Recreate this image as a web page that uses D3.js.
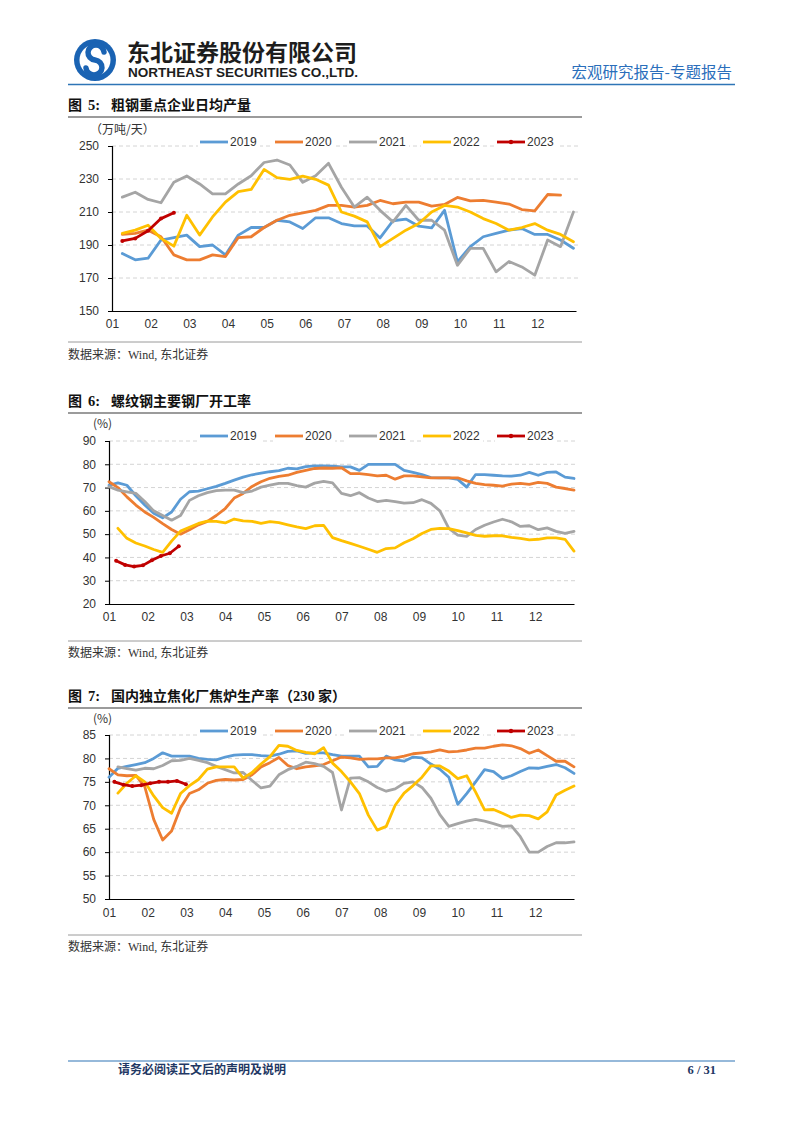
<!DOCTYPE html>
<html><head><meta charset="utf-8">
<script src="https://cdn.jsdelivr.net/npm/d3@7"></script>
<style>
body{margin:0;background:#fff;}
svg{display:block;}
</style></head>
<body><svg id="page" width="802" height="1133"></svg>
<script>
// ---------------- DATA ----------------
const monthLabels = ["01","02","03","04","05","06","07","08","09","10","11","12"];
const seriesNames = ["2019","2020","2021","2022","2023"];
const seriesColors = ["#5B9BD5","#ED7D31","#A5A5A5","#FFC000","#C00000"];

// Figure 5: crude steel daily output of key enterprises (10-day periods), 万吨/天
const steelTicks = [150,170,190,210,230,250];
const steel2019 = [184.8,181,182,193,194.5,196,189,190,184,196,200.6,200.6,205,204,200,206.5,206.5,203,201.6,201.6,194.3,204.7,205.7,201.4,200.4,211,179.8,189,195,197,199,200,196.4,196.4,193,188];
const steel2020 = [196.4,197,199,195,184,181,181,184,183,194.5,195,200.6,205,208,209.5,211,214,214,213,214,217,215,216,216,213.6,214.6,218.8,216.8,217,216,214.8,211.5,210.7,220.6,220.2];
const steel2021 = [219,222,217.6,215.6,228,231.8,227,221,221,227,232,240,241.5,238.5,228,232,239.5,225,213,219,211,204,214,205,205,199,177.7,188,188,173.7,180,176.7,171.7,193,189,210];
const steel2022 = [197,199,202,194,189.3,208,196,207,216,222.3,223.7,235.8,230.8,229.8,231.8,229.8,226.3,210,207.5,204,189,194,199,203,210,214,213,210,206,203,199,200.6,203,199,196.4,192];
const steel2023 = [192.5,194,198.6,206,209.5];
const steelStart = [0,0,0,0,0]; // first 10-day period index

// Figure 6: rebar mill operating rate (weekly), %
const rebarTicks = [20,30,40,50,60,70,80,90];
const rebar2019 = [71,72,71,66.5,62.5,59,57,59.5,65,68.2,68.5,69.5,70.5,71.8,73.2,74.5,75.5,76.2,76.8,77.3,78.3,78,79,79.3,79.3,79.2,78.9,78.9,77.4,80,80,80,80,77.4,76.5,75.6,74.3,74.2,74.2,73.5,70.2,75.6,75.6,75.3,75,74.9,75.3,76.5,75.3,76.5,76.7,74.5,73.9];
const rebar2020 = [72.5,70,66,62.5,59.5,57.2,54.5,52,50,51.9,54,55.5,58,61,65.5,67.5,70.5,72.5,74,74.8,75.3,76.5,77.4,78.2,78.4,78.3,78.5,76,76,75.6,75,75.3,73.6,75,75,74.6,74.2,74.2,74.2,74.2,72.9,71.8,71.3,71,70.6,71.5,71.8,71.4,72.2,71.8,70.2,69.6,68.9];
const rebar2021 = [70.4,68.9,68.2,67.5,64,60,58,56,58,64.5,66.5,67.8,68.7,68.9,68.9,67.8,68.5,70.2,71,71.8,71.8,70.8,70.2,71.9,72.7,72,67.5,66.5,67.8,65.5,64,64.5,64,63.3,63.5,64.8,63.2,60,52.5,49.6,49,52,53.8,55.2,56.4,55.3,53.3,53.6,51.9,52.7,51.2,50.3,51.2];
const rebar2022 = [52.5,48.2,46.2,44.9,43.4,42.2,47,51.3,53,54.6,55.6,55.5,54.8,56.5,55.7,55.5,54.6,55.4,54.9,54,53.1,52.4,53.6,53.8,48.5,47.2,46,44.8,43.5,42.2,43.8,44.1,46.3,48,50.3,52,52.5,52.4,51.5,50.5,49.5,49.1,49.3,49.3,48.6,48.2,47.5,47.8,48.4,48.4,47.8,42.7];
const rebar2023 = [38.6,36.8,36.1,36.6,38.8,40.6,41.8,44.8];
const rebarStart = [0,0,0,1,0.8]; // first week index

// Figure 7: independent coking plants (230) coke oven utilisation (weekly), %
const cokeTicks = [50,55,60,65,70,75,80,85];
const coke2019 = [76,77.9,78.3,78.7,79.1,80,81.2,80.5,80.5,80.5,80,79.8,79.7,80.3,80.7,80.8,80.8,80.6,80.5,80.9,81.5,81.6,81.1,81.2,81.2,80.8,80.5,80.5,80.5,78.2,78.3,80.5,79.7,79.4,80.3,80.1,78.8,77.7,76,70.2,72.5,75,77.6,77.2,75.7,76.3,77.2,78,77.9,78.3,78.7,78,76.8];
const coke2020 = [77.8,76.5,76.3,76.4,74,67,62.6,64.5,69.5,72.5,73.3,74.7,75.3,75.5,75.4,75.5,76.5,78.2,79.1,80.2,78.5,77.8,78.2,78.4,78.7,79.5,80.3,80.1,79.8,79.9,79.9,80.1,80.1,80.5,81,81.2,81.4,81.8,81.4,81.5,81.8,82.2,82.2,82.6,82.9,82.7,82.1,81.1,81.8,80.6,79.4,79.4,78.2];
const coke2021 = [78.2,77.8,77.5,77.9,77.8,78.5,79.5,79.6,80,79.6,79.1,78.3,77.6,76.9,77,75.3,73.7,74.1,76.5,77.6,78.3,79.2,78.9,78.3,77,69,75.8,75.9,75,73.8,73,73.5,74.7,75,73.8,71.5,68,65.5,66.1,66.6,67,66.6,66.1,65.5,65.6,63.3,60,60,61.2,62,62,62.2];
const coke2022 = [72.6,74.7,76.3,75,72,69.5,68.3,72.5,74.2,75.5,77.7,78.2,78.2,78.2,75.8,77,78.8,80.4,82.8,82.6,81.7,81.3,81,82.3,79,77.2,75,72.5,67.9,64.7,65.5,70,72.6,74.2,76,78.4,78.4,77.3,75.7,76.3,72.8,69,69.1,68.3,67.4,67.9,67.8,67.1,68.6,72.2,73.2,74.1];
const coke2023 = [75,74.4,74.1,74.3,74.7,75,75,75.2,74.5];
const cokeStart = [0,0,1,1,0.6];

// ---------------- DRAW ----------------
const svg = d3.select("#page");
const CJK = "'Noto Sans CJK SC', sans-serif";
const SERIF_CJK = "'Liberation Serif', 'Noto Sans CJK SC', serif";
const SANS = "'Liberation Sans', Arial, sans-serif";

// Header
const logo = svg.append("g");
logo.append("circle").attr("cx",95).attr("cy",60).attr("r",21).attr("fill","#1a63b3");
logo.append("circle").attr("cx",95).attr("cy",60).attr("r",15.5).attr("fill","#fff");
logo.append("path").attr("d","M104,52 A8 7.5 0 1 0 95,60 A8 7.5 0 1 1 86,68")
  .attr("fill","none").attr("stroke","#1a63b3").attr("stroke-width",5.5).attr("stroke-linecap","round");
svg.append("text").attr("x",127).attr("y",61).text("东北证券股份有限公司")
  .attr("font-family",CJK).attr("font-weight",700).attr("font-size",22.5).attr("fill","#1d1d1d")
  .attr("textLength",230).attr("lengthAdjust","spacingAndGlyphs");
svg.append("text").attr("x",128).attr("y",77).text("NORTHEAST SECURITIES CO.,LTD.")
  .attr("font-family",SANS).attr("font-weight",700).attr("font-size",12).attr("fill","#1d1d1d")
  .attr("textLength",230).attr("lengthAdjust","spacingAndGlyphs");
svg.append("text").attr("x",732).attr("y",78).attr("text-anchor","end").text("宏观研究报告-专题报告")
  .attr("font-family",CJK).attr("font-size",15.5).attr("fill","#2a6ebb");
svg.append("line").attr("x1",68).attr("x2",735).attr("y1",84.5).attr("y2",84.5)
  .attr("stroke","#2e75b6").attr("stroke-width",1.3);

// Footer
svg.append("line").attr("x1",68).attr("x2",735).attr("y1",1061).attr("y2",1061)
  .attr("stroke","#2e75b6").attr("stroke-width",1.2);
svg.append("text").attr("x",118).attr("y",1074).text("请务必阅读正文后的声明及说明")
  .attr("font-family",CJK).attr("font-weight",700).attr("font-size",12).attr("fill","#1f3864");
svg.append("text").attr("x",716).attr("y",1074).attr("text-anchor","end").text("6 / 31")
  .attr("font-family","'Liberation Serif', serif").attr("font-weight",700).attr("font-size",12.5).attr("fill","#1f3864");

const charts = [
  { num:"5:", title:"粗钢重点企业日均产量", titleY:110, unit:"（万吨/天）", unitX:90,
    ticks:steelTicks, series:[steel2019,steel2020,steel2021,steel2022,steel2023], starts:steelStart,
    pos:(i,s)=>(i+s+0.8)/3, left:112, right:576, top:146, bottom:311, legendY:142, labelY:324,
    srcLineY:342, srcY:359 },
  { num:"6:", title:"螺纹钢主要钢厂开工率", titleY:406, unit:"(%)", unitX:93,
    ticks:rebarTicks, series:[rebar2019,rebar2020,rebar2021,rebar2022,rebar2023], starts:rebarStart,
    pos:(k,s)=>(k+s)*12/52, left:109, right:574, top:441, bottom:604, legendY:436, labelY:617,
    srcLineY:641, srcY:657 },
  { num:"7:", title:"国内独立焦化厂焦炉生产率（", titleTail:true, titleY:701, unit:"(%)", unitX:93,
    ticks:cokeTicks, series:[coke2019,coke2020,coke2021,coke2022,coke2023], starts:cokeStart,
    pos:(k,s)=>(k+s)*12/52, left:109, right:574, top:735, bottom:899, legendY:731, labelY:913,
    srcLineY:935, srcY:951 }
];

charts.forEach(c => {
  const g = svg.append("g");
  // title
  g.append("text").attr("x",68).attr("y",c.titleY).text("图")
    .attr("font-family",CJK).attr("font-weight",700).attr("font-size",14).attr("fill","#111");
  g.append("text").attr("x",88).attr("y",c.titleY).text(c.num)
    .attr("font-family","'Liberation Serif', serif").attr("font-weight",700).attr("font-size",14.5).attr("fill","#111");
  const t = g.append("text").attr("x",111).attr("y",c.titleY)
    .attr("font-family",CJK).attr("font-weight",700).attr("font-size",14).attr("fill","#111");
  t.append("tspan").text(c.title);
  if (c.titleTail) {
    t.append("tspan").text("230").attr("font-family","'Liberation Serif', serif").attr("font-size",14.5);
    t.append("tspan").text(" 家）");
  }
  g.append("line").attr("x1",68).attr("x2",582).attr("y1",c.titleY+7).attr("y2",c.titleY+7)
    .attr("stroke","#7a7a7a").attr("stroke-width",1.3);
  // unit
  g.append("text").attr("x",c.unitX).attr("y",c.legendY-8).text(c.unit)
    .attr("font-family",CJK).attr("font-size",12).attr("fill","#333");

  const x = d3.scaleLinear().domain([0,12]).range([c.left,c.right]);
  const y = d3.scaleLinear().domain([c.ticks[0], c.ticks[c.ticks.length-1]]).range([c.bottom,c.top]);

  // grid
  g.append("g").selectAll("line").data(c.ticks.slice(1)).join("line")
    .attr("x1",c.left).attr("x2",c.right+3).attr("y1",d=>y(d)).attr("y2",d=>y(d))
    .attr("stroke","#d4d4d4").attr("stroke-width",1).attr("stroke-dasharray","4,3");

  // y axis
  const ya = g.append("g").attr("transform",`translate(${c.left},0)`)
    .call(d3.axisLeft(y).tickValues(c.ticks).tickSize(4).tickPadding(9));
  ya.select(".domain").attr("stroke","#000").attr("stroke-width",1.2);
  ya.selectAll(".tick line").attr("stroke","#000");
  ya.selectAll("text").attr("font-family",SANS).attr("font-size",12).attr("fill","#333");

  // x axis
  const xa = g.append("g").attr("transform",`translate(0,${c.bottom})`)
    .call(d3.axisBottom(x).tickValues(d3.range(12)).tickFormat(i=>monthLabels[i]).tickSize(0).tickPadding(0));
  xa.select(".domain").attr("stroke","#000").attr("stroke-width",1.2);
  xa.selectAll("text").attr("font-family",SANS).attr("font-size",12).attr("fill","#333")
    .attr("y", c.labelY - c.bottom).attr("dy","0.35em");

  // series
  const line = d3.line().curve(d3.curveLinear);
  c.series.forEach((vals, si) => {
    const pts = vals.map((v,i)=>[x(c.pos(i, c.starts[si])), y(v)]);
    g.append("path").attr("d", line(pts)).attr("fill","none")
      .attr("stroke", seriesColors[si]).attr("stroke-width",2.8)
      .attr("stroke-linejoin","round").attr("stroke-linecap","round");
    if (si === 4) {
      g.append("g").selectAll("circle").data(pts).join("circle")
        .attr("cx",d=>d[0]).attr("cy",d=>d[1]).attr("r",2).attr("fill",seriesColors[si]);
    }
  });

  // legend
  const lx = [200,275,349,423,497];
  seriesNames.forEach((n,i)=>{
    const lg = g.append("g");
    lg.append("rect").attr("x",lx[i]-2).attr("y",c.legendY-6).attr("width",62).attr("height",12).attr("fill","#fff");
    lg.append("line").attr("x1",lx[i]).attr("x2",lx[i]+28).attr("y1",c.legendY).attr("y2",c.legendY)
      .attr("stroke",seriesColors[i]).attr("stroke-width",2.8);
    if (i===4) lg.append("circle").attr("cx",lx[i]+14).attr("cy",c.legendY).attr("r",2.2).attr("fill",seriesColors[i]);
    lg.append("text").attr("x",lx[i]+30).attr("y",c.legendY).attr("dy","0.35em").text(n)
      .attr("font-family",SANS).attr("font-size",12).attr("fill","#333");
  });

  // source
  g.append("line").attr("x1",68).attr("x2",582).attr("y1",c.srcLineY).attr("y2",c.srcLineY)
    .attr("stroke","#9a9a9a").attr("stroke-width",1);
  g.append("text").attr("x",68).attr("y",c.srcY).text("数据来源：Wind, 东北证券")
    .attr("font-family",SERIF_CJK).attr("font-size",12).attr("fill","#333");
});
</script>
</body></html>
